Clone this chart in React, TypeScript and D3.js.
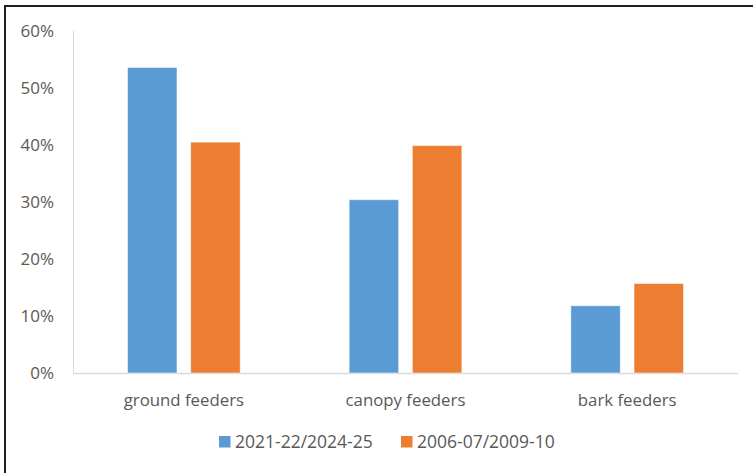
import React from "react";
import * as d3 from "d3";

const categories = ["ground feeders", "canopy feeders", "bark feeders"];
const seriesNames = ["2021-22/2024-25", "2006-07/2009-10"];
const recentValues = [0.536, 0.304, 0.118];
const earlierValues = [0.405, 0.399, 0.157];
const yTicks = [0, 0.1, 0.2, 0.3, 0.4, 0.5, 0.6];
const colors = ["#5b9bd5", "#ed7d31"];

const W = 753;
const H = 473;
const FONT = "'Open Sans', sans-serif";
const TEXT = "#595959";

export default function App() {
  const x = d3.scaleBand<string>().domain(categories).range([73, 738]).padding(0);
  const x1 = d3
    .scaleBand<string>()
    .domain(seriesNames)
    .range([0, x.bandwidth()])
    .paddingInner(0.217)
    .paddingOuter(0.862);
  const y = d3.scaleLinear().domain([0, 0.6]).range([373, 31]);
  const fmt = d3.format(".0%");
  const seriesValues = [recentValues, earlierValues];

  return (
    <svg
      width={W}
      height={H}
      style={{ position: "absolute", left: 0, top: 0, background: "#fff" }}
      fontFamily={FONT}
    >
      <rect x={0} y={0} width={W} height={H} fill="#fff" />
      {/* frame */}
      <path d={`M5,${H + 5} V6 H${W + 5}`} fill="none" stroke="#231f20" strokeWidth={2} />

      {/* axes */}
      <line x1={73.5} x2={73.5} y1={y(0.6)} y2={y(0)} stroke="#d9d9d9" strokeWidth={1} />
      <line x1={73} x2={738} y1={y(0) + 0.5} y2={y(0) + 0.5} stroke="#d9d9d9" strokeWidth={1.5} />

      {yTicks.map((t) => (
        <text
          key={t}
          x={54}
          y={y(t)}
          dy="0.36em"
          textAnchor="end"
          fontSize={17}
          fill={TEXT}
        >
          {fmt(t)}
        </text>
      ))}

      {categories.map((c, i) => (
        <g key={c} transform={`translate(${x(c)},0)`}>
          {seriesNames.map((s, j) => {
            const v = seriesValues[j][i];
            return (
              <rect
                key={s}
                x={x1(s)}
                y={y(v)}
                width={x1.bandwidth()}
                height={y(0) - y(v)}
                fill={colors[j]}
                stroke="#ffffff"
                strokeOpacity={0.5}
                strokeWidth={1}
              />
            );
          })}
          <text
            x={x.bandwidth() / 2}
            y={406}
            textAnchor="middle"
            fontSize={16.8}
            fill={TEXT}
          >
            {c}
          </text>
        </g>
      ))}

      {/* legend */}
      {[219, 401].map((lx, j) => (
        <g key={seriesNames[j]} transform={`translate(${lx},0)`}>
          <rect x={0} y={436} width={11.5} height={11.5} fill={colors[j]} />
          <text x={16} y={448} fontSize={17.5} fill={TEXT}>
            {seriesNames[j]}
          </text>
        </g>
      ))}
    </svg>
  );
}
